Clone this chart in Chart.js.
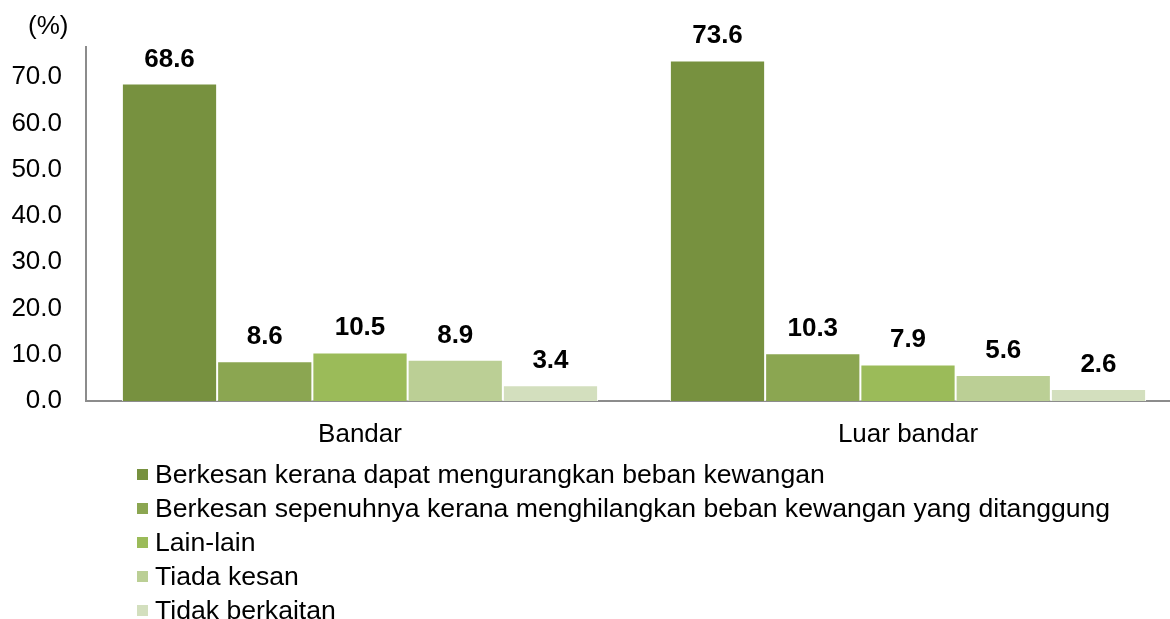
<!DOCTYPE html>
<html>
<head>
<meta charset="utf-8">
<script src="https://cdn.jsdelivr.net/npm/chart.js@4.4.1/dist/chart.umd.min.js"></script>
<style>
  html, body { margin: 0; padding: 0; background: #fff; overflow: hidden; width: 1170px; height: 619px; }
  #wrap { position: relative; width: 1182px; height: 619px; }
  #c { position: absolute; left: 0; top: 0; }
  #unit { position: absolute; left: 28px; top: 10px; font: 26px "Liberation Sans", Arial, sans-serif; color: #000; line-height: 30px; }
  #legend { position: absolute; left: 137px; top: 457px; font: 26.6px "Liberation Sans", Arial, sans-serif; color: #000; }
  .li { height: 34px; line-height: 34px; display: flex; align-items: center; white-space: nowrap; }
  .sw { width: 11px; height: 11px; margin-right: 7px; flex: none; }
</style>
</head>
<body>
<div id="wrap">
  <canvas id="c" width="1182" height="619"></canvas>
  <div id="unit">(%)</div>
  <div id="legend"></div>
</div>
<script>
const categories = ["Bandar", "Luar bandar"];
const seriesNames = [
  "Berkesan kerana dapat mengurangkan beban kewangan",
  "Berkesan sepenuhnya kerana menghilangkan beban kewangan yang ditanggung",
  "Lain-lain",
  "Tiada kesan",
  "Tidak berkaitan"
];
const series1 = [68.6, 73.6];
const series2 = [8.6, 10.3];
const series3 = [10.5, 7.9];
const series4 = [8.9, 5.6];
const series5 = [3.4, 2.6];
const seriesColors = ["#77913F", "#8BA651", "#9BBB59", "#BBCF95", "#D3DFBE"];
const yTicks = [0, 10, 20, 30, 40, 50, 60, 70];

const allSeries = [series1, series2, series3, series4, series5];
const FONT = "'Liberation Sans', Arial, sans-serif";

const labelPlugin = {
  id: 'barLabels',
  afterDatasetsDraw(chart) {
    const ctx = chart.ctx;
    ctx.save();
    ctx.font = "bold 26px " + FONT;
    ctx.fillStyle = "#000";
    ctx.textAlign = "center";
    ctx.textBaseline = "alphabetic";
    chart.data.datasets.forEach((ds, i) => {
      chart.getDatasetMeta(i).data.forEach((bar, j) => {
        ctx.fillText(ds.data[j].toFixed(1), bar.x, bar.y - 17);
      });
    });
    ctx.restore();
  }
};

new Chart(document.getElementById('c'), {
  type: 'bar',
  data: {
    labels: categories,
    datasets: allSeries.map((d, i) => ({
      label: seriesNames[i],
      data: d,
      backgroundColor: seriesColors[i],
      borderColor: "#FFFFFF",
      borderWidth: 1,
      categoryPercentage: 0.869,
      barPercentage: 1.0
    }))
  },
  options: {
    responsive: false,
    animation: false,
    layout: { padding: { top: 47, left: 0, right: 0, bottom: 0 } },
    plugins: { legend: { display: false }, tooltip: { enabled: false } },
    scales: {
      x: {
        grid: { display: false, drawTicks: false },
        border: { color: "#8C8C8C", width: 2 },
        ticks: { color: "#000", font: { family: FONT, size: 26 }, padding: 18 },
        afterFit(s) { s.height = 619 - 401; }
      },
      y: {
        min: 0,
        max: 76.5,
        grid: { display: false, drawTicks: false },
        border: { color: "#8C8C8C", width: 2 },
        afterBuildTicks(s) { s.ticks = yTicks.map(v => ({ value: v })); },
        ticks: {
          color: "#000",
          font: { family: FONT, size: 26 },
          padding: 24,
          callback: v => Number(v).toFixed(1)
        },
        afterFit(s) { s.width = 86; }
      }
    }
  },
  plugins: [labelPlugin]
});

const legend = document.getElementById('legend');
seriesNames.forEach((name, i) => {
  const row = document.createElement('div');
  row.className = 'li';
  const sw = document.createElement('span');
  sw.className = 'sw';
  sw.style.background = seriesColors[i];
  const tx = document.createElement('span');
  tx.textContent = name;
  row.appendChild(sw);
  row.appendChild(tx);
  legend.appendChild(row);
});
</script>
</body>
</html>
